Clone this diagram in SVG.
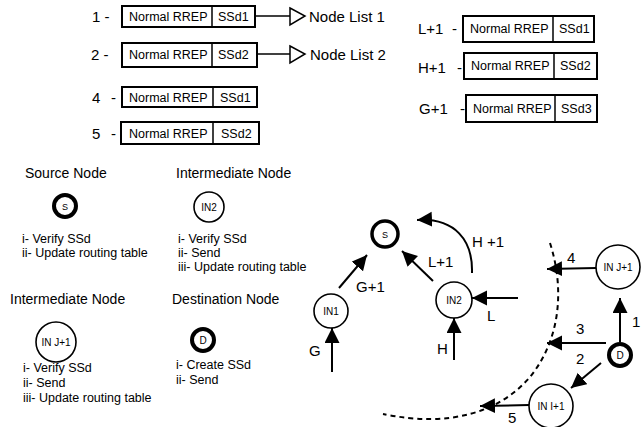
<svg xmlns="http://www.w3.org/2000/svg" width="641" height="427" viewBox="0 0 641 427">
<style>
text{font-family:"Liberation Sans",Arial,sans-serif;fill:#000}
.bt{font-size:12.5px}
.lb{font-size:15px}
.hd{font-size:14px}
.it{font-size:12.5px}
.nt{font-size:10px;text-anchor:middle}
.box{fill:#fff;stroke:#000;stroke-width:2}
.div{stroke:#000;stroke-width:1.5}
.thin{fill:#fff;stroke:#000;stroke-width:1.6}
.thick{fill:#fff;stroke:#000;stroke-width:4}
.ar{fill:none;stroke:#000;stroke-width:2;marker-end:url(#ah)}
.ln{fill:none;stroke:#000;stroke-width:1.5}
.tri{fill:#fff;stroke:#000;stroke-width:1.5}
.dash{fill:none;stroke:#000;stroke-width:2;stroke-dasharray:5 4}
</style>
<defs>
<marker id="ah" markerUnits="userSpaceOnUse" markerWidth="16" markerHeight="16" refX="15" refY="7.5" orient="auto">
<path d="M0,0 L15,7.5 L0,15 Z" fill="#000"/>
</marker>
</defs>

<g id="msg1">
<text class="lb" x="92" y="22">1 -</text>
<rect class="box" x="122" y="6" width="133" height="21"/>
<line class="div" x1="212" y1="6" x2="212" y2="27"/>
<text class="bt" x="129" y="21">Normal RREP</text>
<text class="bt" x="218" y="21">SSd1</text>
</g>
<g id="msg2">
<text class="lb" x="91" y="60">2 -</text>
<rect class="box" x="122" y="43" width="135" height="24"/>
<line class="div" x1="212" y1="43" x2="212" y2="67"/>
<text class="bt" x="129" y="59">Normal RREP</text>
<text class="bt" x="218" y="59">SSd2</text>
</g>
<g id="msg4">
<text class="lb" x="92" y="103">4 <tspan x="111">-</tspan></text>
<rect class="box" x="122" y="87" width="135" height="20"/>
<line class="div" x1="213" y1="87" x2="213" y2="107"/>
<text class="bt" x="129" y="102">Normal RREP</text>
<text class="bt" x="220" y="102">SSd1</text>
</g>
<g id="msg5">
<text class="lb" x="92" y="139">5 <tspan x="111">-</tspan></text>
<rect class="box" x="121" y="122" width="138" height="22"/>
<line class="div" x1="213" y1="122" x2="213" y2="144"/>
<text class="bt" x="129" y="138">Normal RREP</text>
<text class="bt" x="221" y="138">SSd2</text>
</g>
<g id="msgL1">
<text class="lb" x="418" y="34">L+1 <tspan x="452">-</tspan></text>
<rect class="box" x="463" y="16" width="131" height="26"/>
<line class="div" x1="553" y1="16" x2="553" y2="42"/>
<text class="bt" x="470" y="33">Normal RREP</text>
<text class="bt" x="559" y="33">SSd1</text>
</g>
<g id="msgH1">
<text class="lb" x="418" y="73">H+1 <tspan x="457">-</tspan></text>
<rect class="box" x="464" y="53" width="133" height="26"/>
<line class="div" x1="554" y1="53" x2="554" y2="79"/>
<text class="bt" x="471" y="70">Normal RREP</text>
<text class="bt" x="560" y="70">SSd2</text>
</g>
<g id="msgG1">
<text class="lb" x="419" y="114">G+1 <tspan x="460">-</tspan></text>
<rect class="box" x="466" y="95" width="131" height="27"/>
<line class="div" x1="555" y1="95" x2="555" y2="122"/>
<text class="bt" x="473" y="113">Normal RREP</text>
<text class="bt" x="561" y="113">SSd3</text>
</g>
<g id="list1">
<text class="lb" x="309" y="22">Node List 1</text>
</g>
<g id="list2">
<text class="lb" x="310" y="60">Node List 2</text>
</g>

<g id="legend-source">
<text class="hd" x="25" y="178">Source Node</text>
<circle class="thick" cx="65" cy="206" r="11"/>
<text class="nt" x="65" y="210" style="font-size:9px">S</text>
<text class="it" x="22" y="243">i- Verify SSd</text>
<text class="it" x="22" y="257">ii- Update routing table</text>
</g>
<g id="legend-in2">
<text class="hd" x="176" y="178">Intermediate Node</text>
<circle class="thin" cx="209" cy="207" r="15"/>
<text class="nt" x="209" y="211">IN2</text>
<text class="it" x="178" y="243">i- Verify SSd</text>
<text class="it" x="178" y="257">ii- Send</text>
<text class="it" x="178" y="271">iii- Update routing table</text>
</g>
<g id="legend-inj">
<text class="hd" x="10" y="304">Intermediate Node</text>
<circle class="thin" cx="56" cy="342" r="20"/>
<text class="nt" x="56" y="346">IN J+1</text>
<text class="it" x="23" y="372">i- Verify SSd</text>
<text class="it" x="23" y="387">ii- Send</text>
<text class="it" x="23" y="402">iii- Update routing table</text>
</g>
<g id="legend-dest">
<text class="hd" x="172" y="304">Destination Node</text>
<circle class="thick" cx="203" cy="340" r="11"/>
<text class="nt" x="203" y="344">D</text>
<text class="it" x="176" y="369">i- Create SSd</text>
<text class="it" x="176" y="384">ii- Send</text>
</g>

<g id="connectors">
<line class="ln" x1="255" y1="16" x2="290" y2="16"/>
<path class="tri" d="M290,8 L305,16 L290,25 Z"/>
<line class="ln" x1="257" y1="54" x2="290" y2="54"/>
<path class="tri" d="M290,46 L305,54 L290,63 Z"/>

<path class="dash" d="M550,243 C565,290 560,340 530,377 C500,412 450,428 383,414"/>

<line class="ar" x1="332" y1="372" x2="332" y2="328"/>
<line class="ar" x1="339" y1="288" x2="367" y2="255"/>
<line class="ar" x1="433" y1="281" x2="402" y2="251"/>
<path class="ar" d="M472,273 C473,240 455,218 417,220"/>
<line class="ar" x1="518" y1="298" x2="472" y2="298"/>
<line class="ar" x1="454" y1="360" x2="454" y2="318"/>
<line class="ar" x1="596" y1="268" x2="547" y2="269"/>
<line class="ar" x1="620" y1="342" x2="620" y2="298"/>
<line class="ar" x1="606" y1="343" x2="547" y2="343"/>
<line class="ar" x1="601" y1="363" x2="571" y2="388"/>
<line class="ar" x1="529" y1="405" x2="480" y2="406"/>

<text class="lb" x="309" y="356">G</text>
<text class="lb" x="356" y="292">G+1</text>
<text class="lb" x="428" y="267">L+1</text>
<text class="lb" x="472" y="247">H +1</text>
<text class="lb" x="487" y="321">L</text>
<text class="lb" x="437" y="354">H</text>
<text class="lb" x="567" y="263">4</text>
<text class="lb" x="632" y="327">1</text>
<text class="lb" x="576" y="334">3</text>
<text class="lb" x="576" y="364">2</text>
<text class="lb" x="508" y="423">5</text>
</g>

<g id="node-S">
<circle cx="385" cy="234" r="13" fill="#fff" stroke="#000" stroke-width="3.5"/>
<text class="nt" x="385" y="238" style="font-size:9px">S</text>
</g>
<g id="node-IN1">
<circle class="thin" cx="331" cy="311" r="17"/>
<text class="nt" x="331" y="315">IN1</text>
</g>
<g id="node-IN2">
<circle class="thin" cx="454" cy="300" r="18"/>
<text class="nt" x="454" y="304">IN2</text>
</g>
<g id="node-INJ1">
<circle class="thin" cx="618" cy="267" r="22"/>
<text class="nt" x="618" y="271">IN J+1</text>
</g>
<g id="node-D">
<circle class="thick" cx="620" cy="355" r="11"/>
<text class="nt" x="620" y="359">D</text>
</g>
<g id="node-INI1">
<circle class="thin" cx="551" cy="406" r="22"/>
<text class="nt" x="551" y="410">IN I+1</text>
</g>
</svg>
